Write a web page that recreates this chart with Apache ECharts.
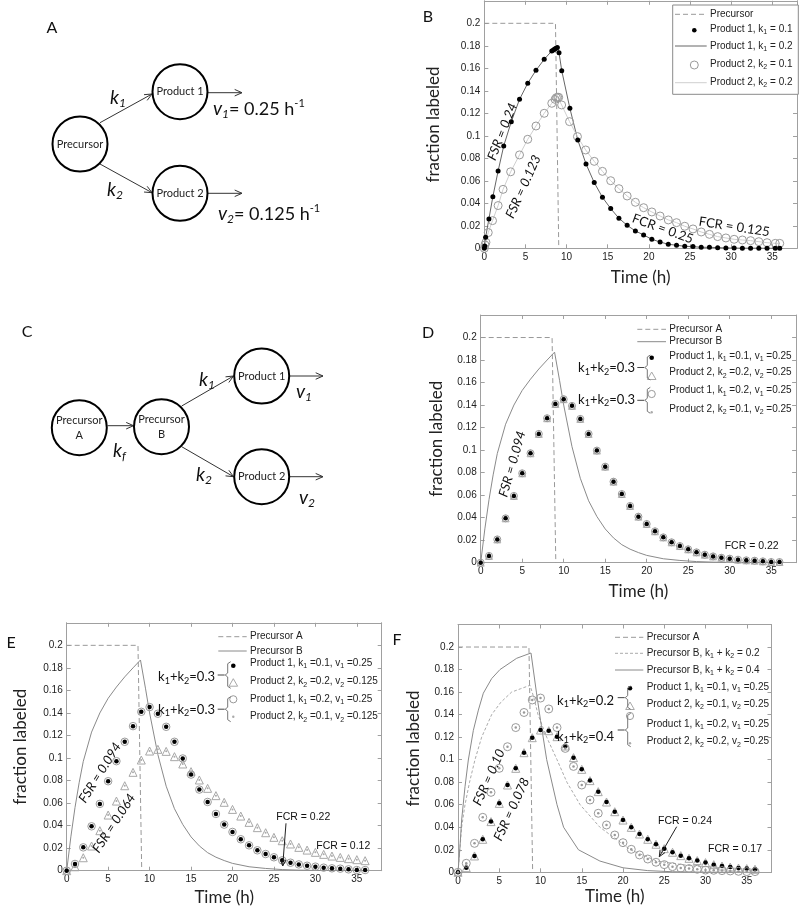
<!DOCTYPE html>
<html><head><meta charset="utf-8">
<script src="https://cdn.jsdelivr.net/npm/echarts@6/dist/echarts.min.js"></script>
<style>html,body{margin:0;padding:0;background:#fff;}#chart{width:800px;height:915px;}</style>
</head><body><div id="chart"></div>
<script>
// ================= DATA =================
// Panel B
const bP1Time = [0, 0.05, 0.16, 0.56, 1.04, 1.68, 2.36, 3.28, 4.28, 5.28, 6.28, 7.28, 8.2, 8.4, 8.56, 8.72, 8.88, 9.08, 9.41, 10.4,
  11.36, 12.36, 13.36, 14.36, 15.36, 16.36, 17.36, 18.36, 19.36, 20.36, 21.36, 22.36, 23.36, 24.36, 25.36, 26.36, 27.36, 28.36, 29.36, 30.36,
  31.36, 32.36, 33.36, 34.36, 35.36, 35.9];
const bP1Frac = [0, 0.002, 0.0098, 0.0261, 0.0459, 0.0687, 0.091, 0.1126, 0.1324, 0.1467, 0.1582, 0.168, 0.1754, 0.1763, 0.1772, 0.1778, 0.1784, 0.1739, 0.1579, 0.1244,
  0.0963, 0.075, 0.0584, 0.0453, 0.0353, 0.0267, 0.0204, 0.0154, 0.0119, 0.008, 0.0056, 0.0036, 0.0027, 0.0018, 0.0015, 0.0009, 0.0009, 0.0006, 0.0003, 0.0002,
  0.0001, 0.0001, 0.0001, 0, 0, 0];
const bP2Time = [0, 0.08, 0.2, 0.48, 1.0, 1.68, 2.28, 3.2, 4.28, 5.28, 6.28, 7.28, 8.2, 8.6, 8.76, 8.92, 9.04, 9.4, 10.36,
  11.32, 12.32, 13.36, 14.36, 15.36, 16.36, 17.36, 18.36, 19.36, 20.36, 21.36, 22.36, 23.36, 24.36, 25.36, 26.36, 27.36, 28.36, 29.36, 30.36,
  31.36, 32.36, 33.36, 34.36, 35.36, 35.9];
const bP2Frac = [0, 0.003, 0.0053, 0.014, 0.0246, 0.038, 0.0524, 0.068, 0.083, 0.0969, 0.1087, 0.12, 0.1289, 0.1324, 0.1339, 0.1342, 0.1342, 0.1274, 0.1126,
  0.0993, 0.0874, 0.0773, 0.0684, 0.0601, 0.053, 0.0465, 0.0409, 0.0361, 0.0323, 0.0287, 0.0252, 0.0228, 0.0196, 0.0172, 0.0145, 0.0124, 0.0104, 0.0092, 0.008,
  0.0074, 0.0068, 0.0059, 0.005, 0.0044, 0.0044];
const bPrecTime = [0, 8.65, 9.05];
const bPrecFrac = [0.2, 0.2, 0];

// Panels D, E, F
const precATime = [0, 8.6, 9.05];
const precAFrac = [0.2, 0.2, 0];
const hourly = [0,1,2,3,4,5,6,7,8,9,10,11,12,13,14,15,16,17,18,19,20,21,22,23,24,25,26,27,28,29,30,31,32,33,34,35,36];
// Precursor B (k1+k2 = 0.3), panels D and E
const precBTime = [0, 0.5, 1, 1.5, 2, 3, 4, 5, 6, 7, 8, 8.9, 9.5, 10, 11, 12, 13, 14, 15, 16, 17, 18, 19, 20, 22, 24, 26, 28, 30, 33, 36];
const precBFrac = [0, 0.03, 0.056, 0.078, 0.097, 0.123, 0.14, 0.153, 0.163, 0.172, 0.18, 0.187, 0.162, 0.14, 0.103, 0.075, 0.055, 0.041, 0.03, 0.022, 0.016, 0.012, 0.009, 0.0065, 0.0035, 0.002, 0.001, 0.0005, 0.0003, 0.0001, 0];
// Product 1 (v1 = 0.25), panels D and E
const prodV25 = [0, 0.006, 0.0207, 0.0394, 0.0593, 0.0794, 0.0972, 0.1144, 0.1283, 0.141, 0.1452, 0.1393, 0.1277, 0.1144, 0.0996, 0.0853, 0.072, 0.061, 0.0504, 0.0409,
  0.0344, 0.0279, 0.0225, 0.0181, 0.0148, 0.0119, 0.0092, 0.0071, 0.0056, 0.0044, 0.0036, 0.0027, 0.0021, 0.0018, 0.0012, 0.0006, 0.0006];
// Product 2 (v2 = 0.125), panel E
const prodV125 = [0, 0.0035, 0.0115, 0.0219, 0.0355, 0.0494, 0.0618, 0.0754, 0.0873, 0.0982, 0.1062, 0.1077, 0.1059, 0.1012, 0.0947, 0.0879, 0.0805, 0.0731, 0.0666, 0.0607,
  0.0544, 0.0485, 0.0429, 0.0382, 0.0337, 0.0296, 0.0266, 0.0237, 0.0207, 0.0183, 0.0163, 0.0145, 0.013, 0.0118, 0.0107, 0.0098, 0.0089];
// Panel F
const precB02Time = [0, 0.44, 0.85, 1.4, 2.06, 2.87, 4.08, 5.2, 6.5, 7.6, 8.73, 9.2, 9.7, 10.75, 12, 13.2, 14.8, 17.2, 20.9, 24.1, 28, 32, 36];
const precB02Frac = [0, 0.04, 0.06, 0.08, 0.1, 0.12, 0.14, 0.151, 0.16, 0.163, 0.166, 0.155, 0.14, 0.12, 0.1, 0.08, 0.06, 0.04, 0.02, 0.01, 0.006, 0.004, 0.003];
const precB04Time = [0, 0.24, 0.44, 0.85, 1.25, 1.86, 2.47, 3.07, 4.08, 5.09, 7.11, 8.85, 9.5, 10, 10.75, 12, 12.8, 14.6, 17.2, 20, 23, 26, 30, 36];
const precB04Frac = [0, 0.0228, 0.0464, 0.076, 0.0997, 0.126, 0.144, 0.159, 0.172, 0.18, 0.19, 0.1947, 0.16, 0.135, 0.1, 0.06, 0.04, 0.02, 0.01, 0.004, 0.0015, 0.0005, 0.0001, 0];
const prodF02 = [0, 0.0041, 0.0145, 0.0293, 0.045, 0.0612, 0.0775, 0.0923, 0.1062, 0.1195, 0.1263, 0.1257, 0.1204, 0.1121, 0.1018, 0.0914, 0.0814, 0.0716, 0.0624, 0.0538,
  0.0464, 0.0399, 0.034, 0.0293, 0.0249, 0.021, 0.0178, 0.0148, 0.0124, 0.0104, 0.0086, 0.0068, 0.0056, 0.0047, 0.0038, 0.0033, 0.0027];
const prodF04 = [0, 0.008, 0.0257, 0.0488, 0.071, 0.0923, 0.1115, 0.1285, 0.1419, 0.153, 0.1547, 0.145, 0.1285, 0.11, 0.094, 0.0775, 0.0642, 0.0524, 0.042, 0.0331,
  0.0263, 0.0204, 0.0154, 0.0118, 0.0089, 0.0068, 0.005, 0.0038, 0.0033, 0.0027, 0.002, 0.0018, 0.0015, 0.0012, 0.0009, 0.0006, 0.0006];

// ================= CHART =================
const SANS = '"Liberation Sans", Arial, sans-serif';
const HUM = 'Lato, "Open Sans", sans-serif';
const AX = '#a0a0a0';

function pts(xs, ys) { const n = Math.min(xs.length, ys.length); const o = []; for (let i = 0; i < n; i++) o.push([xs[i], ys[i]]); return o; }

const grids = [
  {left: 484.3, top: 0.8, width: 315, height: 247.5},
  {left: 480.7, top: 315, width: 315.4, height: 247.7},
  {left: 66.7, top: 622.8, width: 315, height: 247.9},
  {left: 458, top: 624.5, width: 313.5, height: 247.8}
];
const yNameGaps = [42, 36, 38, 36];
const xNameGaps = [21, 20, 18, 16];

const xAxes = [], yAxes = [];
grids.forEach((g, i) => {
  const base = {type: 'value', gridIndex: i, axisLine: {show: true, onZero: false, lineStyle: {color: AX, width: 1}},
    axisTick: {show: true, inside: true, length: 4, lineStyle: {color: AX}}, splitLine: {show: false}};
  xAxes.push(Object.assign({}, base, {position: 'bottom', min: 0, max: 38, interval: 5,
    axisLabel: {show: true, margin: 4, fontSize: 10, fontFamily: SANS, color: '#222', formatter: v => (Math.abs(v % 5) < 1e-9 ? String(v) : '')},
    name: 'Time (h)', nameLocation: 'middle', nameGap: xNameGaps[i], nameTextStyle: {fontFamily: HUM, fontSize: 17, color: '#222'}}));
  xAxes.push(Object.assign({}, base, {position: 'top', min: 0, max: 38, interval: 5, axisLabel: {show: false}}));
  yAxes.push(Object.assign({}, base, {position: 'left', min: 0, max: 0.22, interval: 0.02,
    axisLabel: {show: true, margin: 4, fontSize: 10, fontFamily: SANS, color: '#222', formatter: v => { const r = Math.round(v * 100) / 100; return r > 0.21 ? '' : String(r); }},
    name: 'fraction labeled', nameLocation: 'middle', nameGap: yNameGaps[i], nameTextStyle: {fontFamily: HUM, fontSize: 17, color: '#222'}}));
  yAxes.push(Object.assign({}, base, {position: 'right', min: 0, max: 0.22, interval: 0.02, axisLabel: {show: false}}));
});

function ln(gi, data, color, dash, width) {
  return {type: 'line', xAxisIndex: 2 * gi, yAxisIndex: 2 * gi, data, symbol: 'none', silent: true, animation: false,
    lineStyle: {color, width: width || 1, type: dash || 'solid'}, z: 2};
}
function sc(gi, data, symbol, size, fill, stroke) {
  return {type: 'scatter', xAxisIndex: 2 * gi, yAxisIndex: 2 * gi, data, symbol, symbolSize: size, silent: true, animation: false, clip: false,
    itemStyle: {color: fill, borderColor: stroke || fill, borderWidth: stroke ? 1 : 0, opacity: 1}, z: 3};
}
const NONE = 'rgba(0,0,0,0)';
const series = [
  // B
  ln(0, pts(bPrecTime, bPrecFrac), '#999', [5, 3]),
  ln(0, pts(bP1Time, bP1Frac), '#666'),
  ln(0, pts(bP2Time, bP2Frac), '#cfcfcf'),
  sc(0, pts(bP2Time, bP2Frac), 'circle', 8, NONE, '#9a9a9a'),
  sc(0, pts(bP1Time, bP1Frac), 'circle', 5, '#000'),
  // D
  ln(1, pts(precATime, precAFrac), '#999', [5, 3]),
  ln(1, pts(precBTime, precBFrac), '#8a8a8a'),
  sc(1, pts(hourly, prodV25), 'triangle', 7, NONE, '#b0b0b0'),
  sc(1, pts(hourly, prodV25), 'circle', 7, NONE, '#9a9a9a'),
  sc(1, pts(hourly, prodV25), 'circle', 4.5, '#000'),
  // E
  ln(2, pts(precATime, precAFrac), '#999', [5, 3]),
  ln(2, pts(precBTime, precBFrac), '#8a8a8a'),
  sc(2, pts(hourly, prodV125), 'triangle', 8, NONE, '#a8a8a8'),
  sc(2, pts(hourly, prodV125), 'circle', 2, '#aaa'),
  sc(2, pts(hourly, prodV25), 'circle', 7.5, NONE, '#9a9a9a'),
  sc(2, pts(hourly, prodV25), 'circle', 4.5, '#000'),
  // F
  ln(3, pts(precATime, precAFrac), '#999', [5, 3]),
  ln(3, pts(precB02Time, precB02Frac), '#aaa', [3, 2]),
  ln(3, pts(precB04Time, precB04Frac), '#8a8a8a'),
  sc(3, pts(hourly, prodF02), 'triangle', 8, NONE, '#a8a8a8'),
  sc(3, pts(hourly, prodF02), 'circle', 4.5, '#000'),
  sc(3, pts(hourly, prodF04), 'circle', 8, NONE, '#9a9a9a'),
  sc(3, pts(hourly, prodF04), 'circle', 2.5, '#999')
];

// ================= GRAPHIC (diagrams, legends, annotations) =================
const G = [];
function txt(x, y, text, o) {
  o = o || {};
  const st = {text, fill: o.fill || '#111', fontSize: o.size || 12, fontFamily: o.family || HUM,
    fontStyle: o.italic ? 'italic' : 'normal', align: o.align || 'left', verticalAlign: o.va || 'middle',
    lineHeight: o.lh || undefined};
  if (o.rich) st.rich = o.rich;
  G.push({type: 'text', x, y, rotation: o.rot || 0, silent: true, z: 100, style: st});
}
function seg(x1, y1, x2, y2, col, w, dash) {
  G.push({type: 'line', silent: true, z: 100, shape: {x1, y1, x2, y2}, style: {stroke: col || '#333', lineWidth: w || 1, lineDash: dash || null}});
}
function arrow(x1, y1, x2, y2, col, h) {
  col = col || '#333'; h = h || 8;
  seg(x1, y1, x2, y2, col, 1);
  const a = Math.atan2(y2 - y1, x2 - x1), s = 0.42;
  G.push({type: 'polyline', silent: true, z: 100, shape: {points: [[x2 - h * Math.cos(a - s), y2 - h * Math.sin(a - s)], [x2, y2], [x2 - h * Math.cos(a + s), y2 - h * Math.sin(a + s)]]},
    style: {stroke: col, lineWidth: 1, fill: null}});
}
function node(cx, cy, lines) {
  G.push({type: 'circle', silent: true, z: 100, shape: {cx, cy, r: 27.5}, style: {fill: '#fff', stroke: '#000', lineWidth: 2}});
  if (lines.length === 1) txt(cx, cy, lines[0], {size: 11, align: 'center', fill: '#222'});
  else { txt(cx, cy - 7, lines[0], {size: 11, align: 'center', fill: '#222'}); txt(cx, cy + 8, lines[1], {size: 11, align: 'center', fill: '#222'}); }
}
function mDot(x, y) { G.push({type: 'circle', silent: true, z: 100, shape: {cx: x, cy: y, r: 2.3}, style: {fill: '#000'}}); }
function mCirc(x, y, r) { G.push({type: 'circle', silent: true, z: 100, shape: {cx: x, cy: y, r: r || 3.6}, style: {fill: null, stroke: '#9a9a9a', lineWidth: 1}}); }
function mTri(x, y) { G.push({type: 'polygon', silent: true, z: 100, shape: {points: [[x, y - 4], [x + 4.3, y + 3.5], [x - 4.3, y + 3.5]]}, style: {fill: null, stroke: '#a8a8a8', lineWidth: 1}}); }
function mTiny(x, y) { G.push({type: 'circle', silent: true, z: 100, shape: {cx: x, cy: y, r: 1.2}, style: {fill: '#aaa'}}); }
function brace(x, y1, y2) {
  const m = (y1 + y2) / 2;
  G.push({type: 'polyline', silent: true, z: 100, shape: {points: [[x + 3, y1], [x, y1 + 2], [x, m - 2], [x - 2.5, m], [x, m + 2], [x, y2 - 2], [x + 3, y2]]},
    style: {stroke: '#777', lineWidth: 1, fill: null}});
  seg(x - 10, m, x - 3, m, '#444', 1);
}

// rich text styles
const legRich = {s: {fontSize: 7, lineHeight: 8, verticalAlign: 'bottom', fontFamily: SANS, fill: '#222'}};
function leg(x, y, text) { txt(x, y, text, {size: 10, family: SANS, fill: '#222', rich: legRich, lh: 13}); }
const bigRich = {
  i: {fontSize: 19, fontStyle: 'italic', fontFamily: HUM, lineHeight: 22, fill: '#111'},
  is: {fontSize: 12, fontStyle: 'italic', fontFamily: HUM, lineHeight: 12, verticalAlign: 'bottom', fill: '#111'},
  n: {fontSize: 18, fontFamily: HUM, lineHeight: 22, fill: '#111'},
  sup: {fontSize: 11, fontFamily: HUM, lineHeight: 12, verticalAlign: 'top', fill: '#111'}
};
const sumRich = {
  n: {fontSize: 13, fontFamily: HUM, lineHeight: 16, fill: '#111'},
  s: {fontSize: 9, fontFamily: HUM, lineHeight: 9, verticalAlign: 'bottom', fill: '#111'}
};
function sumLabel(xRight, y, val) { txt(xRight, y, '{n|k}{s|1}{n|+k}{s|2}{n|=' + val + '}', {align: 'right', rich: sumRich, size: 13}); }

// panel letters
[['A', 52, 28], ['B', 428, 17], ['C', 27, 332], ['D', 428, 333], ['E', 11, 643], ['F', 397, 640]].forEach(l => txt(l[1], l[2], l[0], {size: 16, align: 'center', fill: '#111'}));

// Diagram A
arrow(100, 122.7, 152, 94);
arrow(100, 164, 152, 192.7);
arrow(207.5, 92.7, 242, 92.7);
arrow(207.5, 193.3, 242, 193.3);
node(80, 144, ['Precursor']);
node(180, 91.7, ['Product 1']);
node(180, 193.3, ['Product 2']);
txt(110, 98, '{i|k}{is|1}', {rich: bigRich});
txt(107, 190, '{i|k}{is|2}', {rich: bigRich});
txt(213, 109, '{i|v}{is|1}{n|= 0.25 h}{sup|-1}', {rich: bigRich});
txt(218, 214, '{i|v}{is|2}{n|= 0.125 h}{sup|-1}', {rich: bigRich});

// Diagram C
arrow(107.5, 425.7, 133.5, 425.7);
arrow(181.7, 406, 233.5, 376);
arrow(181.7, 446.7, 233.5, 476.7);
arrow(289.5, 376, 323, 376);
arrow(289.5, 476.7, 323, 476.7);
node(79.3, 427.7, ['Precursor', 'A']);
node(161.5, 426.7, ['Precursor', 'B']);
node(261.7, 376, ['Product 1']);
node(261.7, 476.7, ['Product 2']);
txt(113, 451, '{i|k}{is|f}', {rich: bigRich});
txt(199, 380, '{i|k}{is|1}', {rich: bigRich});
txt(196, 475, '{i|k}{is|2}', {rich: bigRich});
txt(296, 392, '{i|v}{is|1}', {rich: bigRich});
txt(299, 498, '{i|v}{is|2}', {rich: bigRich});

// Legend B
G.push({type: 'rect', silent: true, z: 99, shape: {x: 672.7, y: 5, width: 125.6, height: 89.3}, style: {fill: '#fff', stroke: '#8a8a8a', lineWidth: 1}});
seg(675, 14.3, 706.7, 14.3, '#999', 1, [5, 3]); leg(710, 14.3, 'Precursor');
mDot(694.3, 30.3); leg(710, 29.5, 'Product 1, k{s|1} = 0.1');
seg(675, 46, 706.7, 46, '#666', 1); leg(710, 46, 'Product 1, k{s|1} = 0.2');
mCirc(694.3, 65, 4); leg(710, 64, 'Product 2, k{s|2} = 0.1');
seg(675, 82.7, 706.7, 82.7, '#cfcfcf', 1); leg(710, 82.3, 'Product 2, k{s|2} = 0.2');

// Legend D
seg(637.3, 329.3, 666, 329.3, '#999', 1, [5, 3]); leg(669.3, 329.3, 'Precursor A');
seg(637.3, 341.7, 666, 341.7, '#8a8a8a', 1); leg(669.3, 341.7, 'Precursor B');
mDot(651.7, 357.7); leg(669.3, 356, 'Product 1, k{s|1} =0.1, v{s|1} =0.25');
mTri(651.7, 376); leg(669.3, 372.7, 'Product 2, k{s|2} =0.2, v{s|2} =0.25');
mCirc(651.7, 394); leg(669.3, 390.7, 'Product 1, k{s|1} =0.2, v{s|1} =0.25');
mTiny(651.7, 412.3); leg(669.3, 409.3, 'Product 2, k{s|2} =0.1, v{s|2} =0.25');
brace(647.3, 355, 380); brace(647.3, 387.3, 413.3);
sumLabel(635, 368.3, '0.3'); sumLabel(635, 400, '0.3');

// Legend E
seg(218.3, 636.7, 246.7, 636.7, '#999', 1, [5, 3]); leg(250, 636.7, 'Precursor A');
seg(218.3, 651, 246.7, 651, '#8a8a8a', 1); leg(250, 651, 'Precursor B');
mDot(233.3, 665.7); leg(250, 663.3, 'Product 1, k{s|1} =0.1, v{s|1} =0.25');
mTri(233.3, 682.7); leg(250, 681.7, 'Product 2, k{s|2} =0.2, v{s|2} =0.125');
mCirc(233.3, 699.3); leg(250, 699.3, 'Product 1, k{s|1} =0.2, v{s|1} =0.25');
mTiny(233.3, 716.7); leg(250, 716.7, 'Product 2, k{s|2} =0.1, v{s|2} =0.125');
brace(227.7, 661.7, 688.3); brace(227.7, 696.7, 721.7);
sumLabel(215, 677.3, '0.3'); sumLabel(215, 710, '0.3');

// Legend F
seg(615, 637.3, 643.3, 637.3, '#999', 1, [5, 3]); leg(646.7, 637.3, 'Precursor A');
seg(615, 653.3, 643.3, 653.3, '#aaa', 1, [3, 2]); leg(646.7, 653.3, 'Precursor B, k{s|1} + k{s|2} = 0.2');
seg(615, 670, 643.3, 670, '#8a8a8a', 1); leg(646.7, 670, 'Precursor B, k{s|1} + k{s|2} = 0.4');
mDot(630, 688.3); leg(646.7, 687.3, 'Product 1, k{s|1} =0.1, v{s|1} =0.25');
mTri(630, 706); leg(646.7, 704.3, 'Product 2, k{s|2} =0.1, v{s|2} =0.25');
mCirc(630, 716); leg(646.7, 724, 'Product 1, k{s|1} =0.2, v{s|1} =0.25');
mTiny(630, 743.3); leg(646.7, 741.7, 'Product 2, k{s|2} =0.2, v{s|2} =0.25');
brace(627.7, 686, 709.3); brace(627.7, 713.3, 746.7);
sumLabel(614, 701, '0.2'); sumLabel(614, 736.7, '0.4');

// Annotations
const deg = Math.PI / 180;
txt(502.3, 131.7, 'FSR = 0.24', {size: 13, italic: true, align: 'center', rot: 68.5 * deg});
txt(523.3, 186.7, 'FSR = 0.123', {size: 13, italic: true, align: 'center', rot: 65.7 * deg});
txt(662.7, 228.7, 'FCR = 0.25', {size: 13, align: 'center', rot: -20 * deg});
txt(734.2, 226.8, 'FCR = 0.125', {size: 13, align: 'center', rot: -8.6 * deg});
txt(512.3, 464, 'FSR = 0.094', {size: 13, italic: true, align: 'center', rot: 74 * deg});
txt(751.7, 546, 'FCR = 0.22', {size: 10.5, family: SANS, align: 'center'});
txt(100, 772.7, 'FSR = 0.094', {size: 13, italic: true, align: 'center', rot: 58 * deg});
txt(114, 823.3, 'FSR = 0.064', {size: 13, italic: true, align: 'center', rot: 56.7 * deg});
txt(303.3, 817.3, 'FCR = 0.22', {size: 10.5, family: SANS, align: 'center'});
arrow(286, 823.3, 282.7, 866, '#222', 7);
txt(343.3, 845.7, 'FCR = 0.12', {size: 10.5, family: SANS, align: 'center'});
txt(489, 777.3, 'FSR = 0.10', {size: 13, italic: true, align: 'center', rot: 65.9 * deg});
txt(511.7, 809.3, 'FSR = 0.078', {size: 13, italic: true, align: 'center', rot: 65.2 * deg});
txt(685, 821, 'FCR = 0.24', {size: 10.5, family: SANS, align: 'center'});
arrow(676.7, 826.7, 659.3, 856.7, '#222', 7);
txt(735, 849.3, 'FCR = 0.17', {size: 10.5, family: SANS, align: 'center'});

const chart = echarts.init(document.getElementById('chart'), null, {renderer: 'canvas'});
chart.setOption({
  animation: false,
  backgroundColor: '#fff',
  grid: grids,
  xAxis: xAxes,
  yAxis: yAxes,
  series: series,
  graphic: {elements: G}
});
</script></body></html>
